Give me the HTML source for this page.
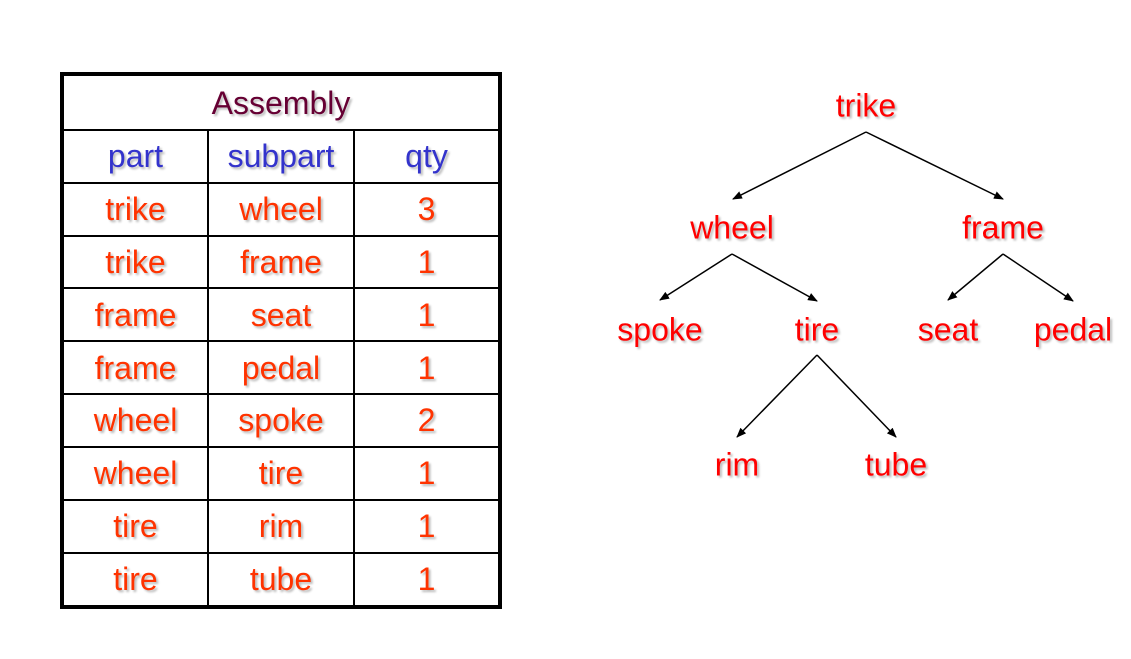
<!DOCTYPE html>
<html><head><style>
body{margin:0;width:1131px;height:659px;background:#fff;position:relative;overflow:hidden;font-family:"Liberation Sans",sans-serif}
table{position:absolute;left:60px;top:72px;width:442px;height:537px;border-collapse:collapse;border:4px solid #000;table-layout:fixed}
td{border:2px solid #000;text-align:center;font-size:32px;color:#ff3300;text-shadow:2px 2px 2px #bbb;padding:0;line-height:1}
.h td{color:#3333cc}
.t{position:absolute;font-size:32px;color:#ff0000;text-shadow:2px 2px 2px #bbb;transform:translate(-50%,-50%);white-space:nowrap}
</style></head><body>
<table>
<colgroup><col style="width:146px"><col style="width:146px"><col></colgroup>
<tr style="height:56px"><td colspan="3" style="color:#660033">Assembly</td></tr>
<tr class="h"><td>part</td><td>subpart</td><td>qty</td></tr>
<tr><td>trike</td><td>wheel</td><td>3</td></tr>
<tr><td>trike</td><td>frame</td><td>1</td></tr>
<tr><td>frame</td><td>seat</td><td>1</td></tr>
<tr><td>frame</td><td>pedal</td><td>1</td></tr>
<tr><td>wheel</td><td>spoke</td><td>2</td></tr>
<tr><td>wheel</td><td>tire</td><td>1</td></tr>
<tr><td>tire</td><td>rim</td><td>1</td></tr>
<tr><td>tire</td><td>tube</td><td>1</td></tr>
</table>
<svg width="1131" height="659" style="position:absolute;left:0;top:0">
<defs><marker id="a" markerWidth="10" markerHeight="8" refX="9" refY="4" orient="auto" markerUnits="userSpaceOnUse"><path d="M0,0L10,4L0,8z" fill="#000"/></marker></defs>
<g stroke="#000" stroke-width="1.5" marker-end="url(#a)">
<line x1="866" y1="132" x2="733" y2="199"/><line x1="866" y1="132" x2="1003" y2="199"/>
<line x1="732" y1="254" x2="660" y2="300"/><line x1="732" y1="254" x2="817" y2="301"/>
<line x1="1003" y1="254" x2="948" y2="300"/><line x1="1003" y1="254" x2="1073" y2="301"/>
<line x1="817" y1="355" x2="737" y2="437"/><line x1="817" y1="355" x2="896" y2="437"/>
</g></svg>
<div class="t" style="left:866px;top:106px">trike</div>
<div class="t" style="left:732px;top:228px">wheel</div>
<div class="t" style="left:1003px;top:228px">frame</div>
<div class="t" style="left:660px;top:330px">spoke</div>
<div class="t" style="left:817px;top:330px">tire</div>
<div class="t" style="left:948px;top:330px">seat</div>
<div class="t" style="left:1073px;top:330px">pedal</div>
<div class="t" style="left:737px;top:465px">rim</div>
<div class="t" style="left:896px;top:465px">tube</div>
</body></html>
